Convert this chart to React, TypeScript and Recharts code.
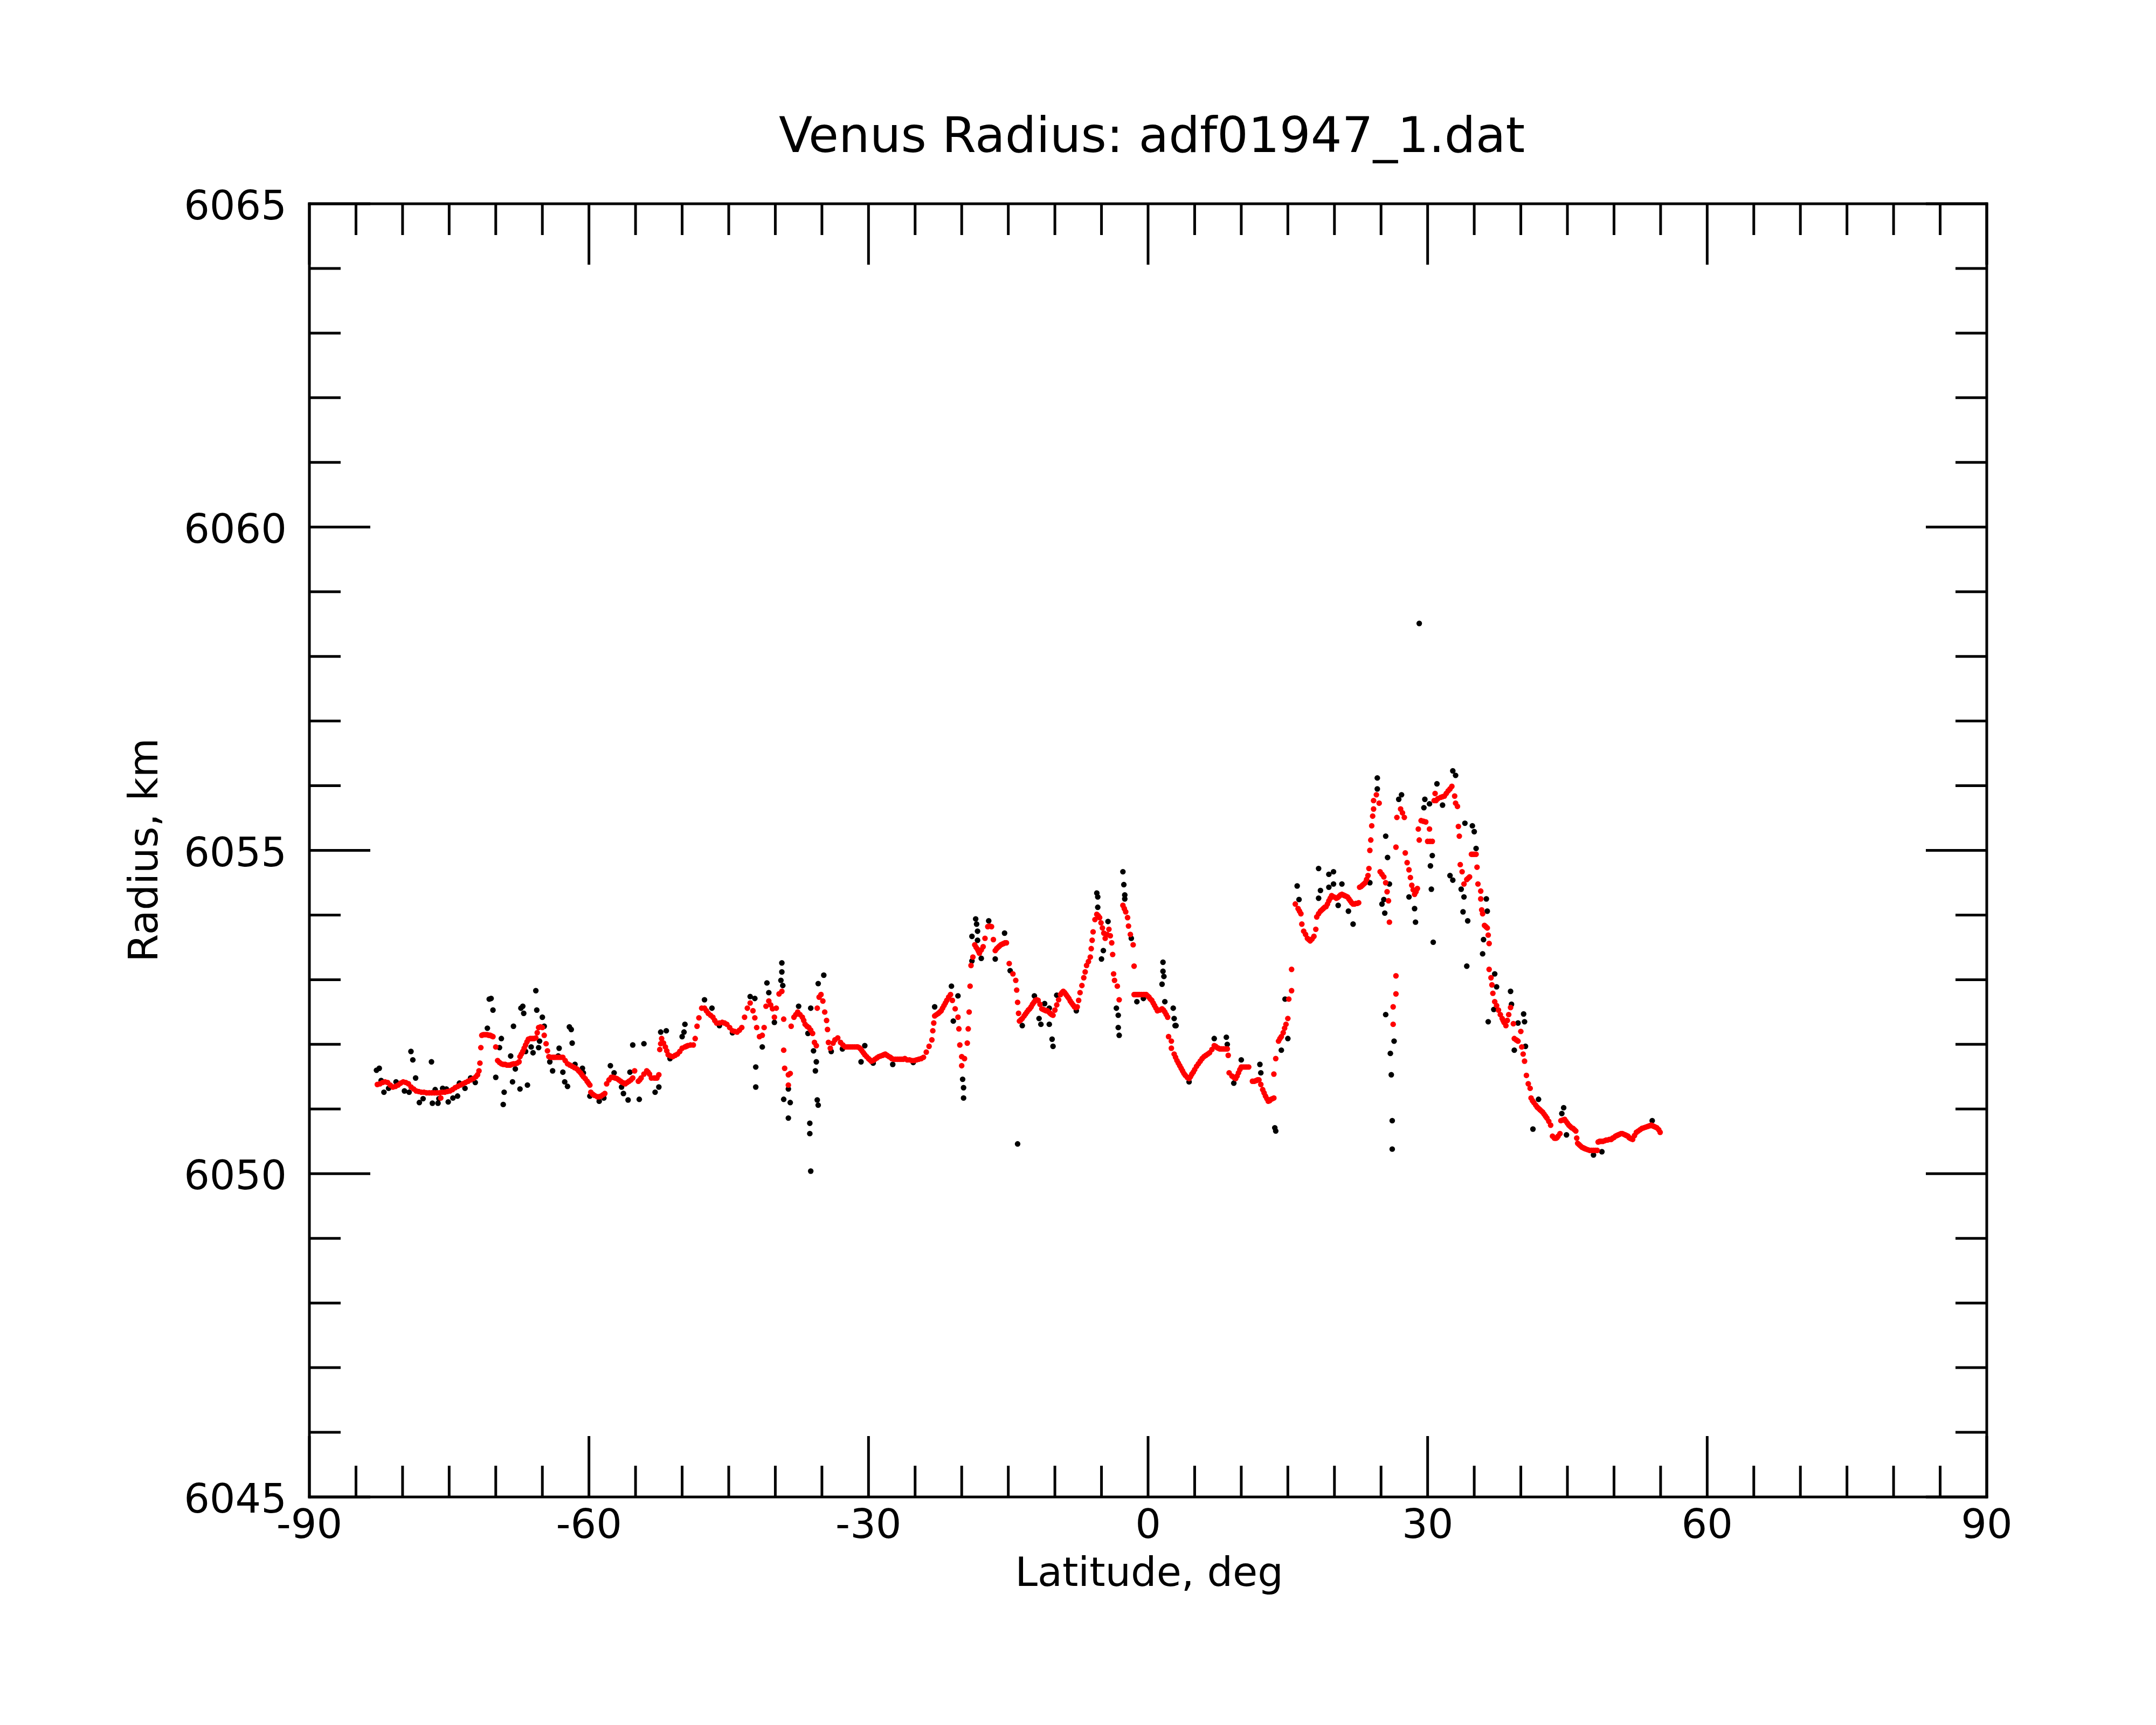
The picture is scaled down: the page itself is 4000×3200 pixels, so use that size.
import React from 'react';
import { ScatterChart, Scatter, XAxis, YAxis } from 'recharts';

const chartTitle = 'Venus Radius: adf01947_1.dat';
const xAxisTitle = 'Latitude, deg';
const yAxisTitle = 'Radius, km';

const xTicks = [-90, -85, -80, -75, -70, -65, -60, -55, -50, -45, -40, -35, -30, -25, -20, -15, -10, -5, 0, 5, 10, 15, 20, 25, 30, 35, 40, 45, 50, 55, 60, 65, 70, 75, 80, 85, 90];
const xLabelTicks = [-90, -60, -30, 0, 30, 60, 90];
const yTicks = [6045, 6046, 6047, 6048, 6049, 6050, 6051, 6052, 6053, 6054, 6055, 6056, 6057, 6058, 6059, 6060, 6061, 6062, 6063, 6064, 6065];
const yLabelTicks = [6045, 6050, 6055, 6060, 6065];

// smoothed radius (red) : [latitude, radius]
const smoothedPolar: [number, number][] = [
  [-82.71, 6051.38], [-82.43, 6051.39], [-82.15, 6051.41], [-81.88, 6051.42], [-81.60, 6051.41], [-81.32, 6051.37],
  [-81.04, 6051.34], [-80.76, 6051.35], [-80.48, 6051.37], [-80.21, 6051.40], [-79.93, 6051.42], [-79.65, 6051.41],
  [-79.37, 6051.39], [-79.09, 6051.34], [-78.81, 6051.31], [-78.54, 6051.28], [-78.26, 6051.27], [-77.98, 6051.26],
  [-77.70, 6051.26], [-77.42, 6051.25], [-77.14, 6051.25], [-76.87, 6051.25], [-76.59, 6051.25], [-76.31, 6051.25],
  [-76.03, 6051.25], [-75.75, 6051.26], [-75.9, 6051.17], [-75.47, 6051.26], [-75.20, 6051.27], [-74.92, 6051.28],
  [-74.64, 6051.30], [-74.36, 6051.33], [-74.08, 6051.35], [-73.80, 6051.37], [-73.53, 6051.39], [-73.25, 6051.41],
  [-72.97, 6051.43], [-72.69, 6051.45], [-72.41, 6051.47], [-72.13, 6051.50], [-71.95, 6051.53],
];

const smoothedSouth: [number, number][] = [
  [-71.8, 6051.59], [-71.7, 6051.71], [-71.6, 6051.95], [-71.5, 6052.14], [-71.35, 6052.15], [-71.2, 6052.15],
  [-71.05, 6052.15], [-70.9, 6052.15], [-70.75, 6052.14], [-70.6, 6052.14], [-70.45, 6052.13], [-70.3, 6052.12],
  [-70.0, 6051.96], [-69.8, 6051.75], [-69.6, 6051.72], [-69.4, 6051.70], [-69.2, 6051.69], [-69.0, 6051.69],
  [-68.8, 6051.68], [-68.6, 6051.68], [-68.45, 6051.68], [-68.3, 6051.69], [-68.1, 6051.70], [-67.9, 6051.70],
  [-67.7, 6051.71], [-67.5, 6051.73], [-67.4, 6051.81], [-67.25, 6051.85], [-67.1, 6051.89], [-66.95, 6051.94],
  [-66.8, 6051.99], [-66.65, 6052.04], [-66.5, 6052.08], [-66.3, 6052.09], [-66.1, 6052.09], [-65.9, 6052.09],
  [-65.7, 6052.10], [-65.55, 6052.18], [-65.4, 6052.26], [-65.2, 6052.27], [-65.0, 6052.26], [-64.8, 6052.14],
  [-64.6, 6052.01], [-64.45, 6051.90], [-64.3, 6051.81], [-64.1, 6051.80], [-63.9, 6051.80], [-63.75, 6051.80],
  [-63.6, 6051.80], [-63.4, 6051.80], [-63.2, 6051.80], [-63.0, 6051.80], [-62.8, 6051.80], [-62.55, 6051.75],
  [-62.3, 6051.70], [-62.05, 6051.68], [-61.8, 6051.66], [-61.55, 6051.64], [-61.3, 6051.62], [-61.1, 6051.59],
  [-60.9, 6051.56], [-60.75, 6051.53], [-60.6, 6051.50], [-60.4, 6051.47], [-60.2, 6051.43], [-60.05, 6051.40],
  [-59.9, 6051.37], [-59.8, 6051.26], [-59.6, 6051.23], [-59.4, 6051.21], [-59.1, 6051.19], [-58.9, 6051.19],
  [-58.7, 6051.20], [-58.5, 6051.22], [-58.3, 6051.24], [-58.1, 6051.39], [-57.85, 6051.45], [-57.6, 6051.49],
  [-57.4, 6051.49], [-57.2, 6051.48], [-57.0, 6051.47], [-56.8, 6051.45], [-56.6, 6051.43], [-56.4, 6051.41],
  [-56.25, 6051.40], [-56.1, 6051.39], [-55.9, 6051.41], [-55.7, 6051.43], [-55.5, 6051.45], [-55.3, 6051.48],
  [-55.1, 6051.59], [-54.7, 6051.43], [-54.55, 6051.45], [-54.4, 6051.48], [-54.1, 6051.54], [-53.8, 6051.59],
  [-53.65, 6051.57], [-53.5, 6051.54], [-53.3, 6051.48], [-53.0, 6051.48], [-52.85, 6051.48], [-52.7, 6051.48],
  [-52.5, 6051.53], [-52.4, 6051.92], [-52.3, 6052.01], [-52.2, 6052.09], [-52.0, 6052.02], [-51.8, 6051.96],
  [-51.65, 6051.90], [-51.5, 6051.84], [-51.25, 6051.82], [-51.0, 6051.81], [-50.75, 6051.83], [-50.5, 6051.85],
  [-50.25, 6051.89], [-50.0, 6051.94], [-49.7, 6051.96], [-49.55, 6051.97], [-49.4, 6051.98], [-49.1, 6051.99],
  [-48.8, 6051.99], [-48.6, 6052.09], [-48.4, 6052.28], [-48.2, 6052.41], [-47.9, 6052.56], [-47.6, 6052.56],
  [-47.4, 6052.52], [-47.2, 6052.48], [-46.95, 6052.45], [-46.7, 6052.42], [-46.5, 6052.37], [-46.3, 6052.33],
  [-46.0, 6052.33], [-45.7, 6052.34], [-45.45, 6052.33], [-45.2, 6052.31], [-44.9, 6052.26], [-44.6, 6052.21],
  [-44.35, 6052.20], [-44.1, 6052.19], [-43.85, 6052.22], [-43.6, 6052.26], [-43.3, 6052.42], [-43.0, 6052.56],
  [-42.7, 6052.64], [-42.4, 6052.52], [-42.2, 6052.41], [-42.0, 6052.26], [-41.7, 6052.12], [-41.4, 6052.14],
  [-41.2, 6052.26], [-41.0, 6052.59], [-40.7, 6052.67], [-40.5, 6052.61], [-40.3, 6052.55], [-40.1, 6052.42],
  [-39.9, 6052.56], [-39.6, 6052.78], [-39.3, 6052.82], [-39.1, 6052.39], [-39.1, 6051.91], [-39.0, 6051.63],
  [-38.6, 6051.53], [-38.6, 6051.37], [-38.4, 6051.55], [-38.3, 6052.28], [-38.0, 6052.42], [-37.8, 6052.46],
  [-37.6, 6052.50], [-37.35, 6052.46], [-37.1, 6052.42], [-36.95, 6052.37], [-36.8, 6052.31], [-36.6, 6052.28],
  [-36.4, 6052.26], [-36.2, 6052.22], [-36.0, 6052.17], [-35.8, 6052.03], [-35.6, 6051.98], [-35.5, 6052.56],
  [-35.3, 6052.73], [-35.1, 6052.77], [-34.9, 6052.67], [-34.7, 6052.50], [-34.5, 6052.37], [-34.4, 6052.23],
  [-34.3, 6052.03], [-34.1, 6051.94], [-33.8, 6052.02], [-33.6, 6052.07], [-33.3, 6052.10], [-33.0, 6052.03],
  [-32.75, 6051.99], [-32.5, 6051.96], [-32.3, 6051.96], [-32.1, 6051.96], [-31.9, 6051.96], [-31.7, 6051.96],
  [-31.5, 6051.96], [-31.3, 6051.96], [-31.15, 6051.96], [-31.0, 6051.95], [-30.85, 6051.93], [-30.7, 6051.90],
  [-30.55, 6051.87], [-30.4, 6051.84], [-30.2, 6051.81], [-30.0, 6051.78], [-29.85, 6051.76], [-29.7, 6051.74],
  [-29.5, 6051.75], [-29.3, 6051.77], [-29.1, 6051.79], [-28.9, 6051.81], [-28.7, 6051.82], [-28.5, 6051.83],
  [-28.35, 6051.84], [-28.2, 6051.85], [-28.0, 6051.83], [-27.8, 6051.81], [-27.65, 6051.80], [-27.5, 6051.78],
  [-27.3, 6051.77], [-27.1, 6051.77], [-26.9, 6051.77], [-26.7, 6051.77], [-26.55, 6051.77], [-26.4, 6051.77],
  [-26.25, 6051.77], [-26.1, 6051.78], [-25.85, 6051.76],
];

const smoothedEquator: [number, number][] = [
  [-25.6, 6051.76], [-25.35, 6051.75], [-25.1, 6051.75], [-24.85, 6051.76], [-24.6, 6051.77], [-24.35, 6051.78],
  [-24.1, 6051.80], [-23.8, 6051.88], [-23.5, 6051.97],
  [-23.2, 6052.07], [-23.1, 6052.21], [-23.0, 6052.33], [-22.9, 6052.44], [-22.7, 6052.46], [-22.5, 6052.48],
  [-22.35, 6052.50], [-22.2, 6052.52], [-22.05, 6052.56], [-21.9, 6052.60], [-21.75, 6052.64], [-21.6, 6052.68],
  [-21.4, 6052.73], [-21.2, 6052.77], [-21.0, 6052.68], [-20.7, 6052.55], [-20.4, 6052.42],
  [-20.3, 6052.24], [-20.2, 6051.99], [-20.0, 6051.81], [-20.0, 6051.67], [-19.7, 6051.78], [-19.4, 6052.02],
  [-19.3, 6052.24], [-19.2, 6052.50], [-19.1, 6052.90], [-19.0, 6053.22], [-18.8, 6053.35], [-18.6, 6053.54],
  [-18.45, 6053.50], [-18.3, 6053.47], [-18.2, 6053.44], [-18.1, 6053.41], [-17.9, 6053.46], [-17.7, 6053.51],
  [-17.5, 6053.64], [-17.2, 6053.82], [-17.0, 6053.83], [-16.8, 6053.82],
  [-16.6, 6053.62], [-16.4, 6053.45], [-16.25, 6053.48], [-16.1, 6053.50], [-15.95, 6053.52], [-15.8, 6053.54],
  [-15.65, 6053.55], [-15.5, 6053.56], [-15.35, 6053.57], [-15.2, 6053.57],
  [-14.9, 6053.25], [-14.5, 6053.09], [-14.2, 6052.99], [-14.1, 6052.84], [-14.0, 6052.65], [-13.9, 6052.48],
  [-13.8, 6052.36], [-13.65, 6052.38], [-13.5, 6052.40], [-13.3, 6052.44], [-13.15, 6052.47], [-13.0, 6052.50],
  [-12.85, 6052.53], [-12.7, 6052.55], [-12.55, 6052.58], [-12.4, 6052.62], [-12.25, 6052.65],
  [-12.1, 6052.68], [-11.95, 6052.69], [-11.8, 6052.68], [-11.6, 6052.62], [-11.4, 6052.55], [-11.25, 6052.54],
  [-11.1, 6052.53], [-10.95, 6052.52], [-10.8, 6052.52], [-10.65, 6052.50], [-10.5, 6052.48], [-10.35, 6052.46],
  [-10.2, 6052.45], [-10.0, 6052.53], [-9.8, 6052.61], [-9.6, 6052.69], [-9.4, 6052.77], [-9.25, 6052.80],
  [-9.1, 6052.82], [-8.95, 6052.80], [-8.8, 6052.77], [-8.65, 6052.74], [-8.5, 6052.71], [-8.35, 6052.67],
  [-8.2, 6052.64], [-8.05, 6052.61], [-7.9, 6052.58], [-7.75, 6052.57], [-7.6, 6052.58], [-7.45, 6052.68],
  [-7.3, 6052.80], [-7.1, 6052.91], [-6.9, 6053.03], [-6.75, 6053.12], [-6.6, 6053.22], [-6.4, 6053.28],
  [-6.2, 6053.35], [-6.1, 6053.48], [-6.0, 6053.61], [-5.9, 6053.74], [-5.7, 6053.93], [-5.5, 6054.01],
  [-5.35, 6053.99], [-5.2, 6053.96], [-5.05, 6053.88], [-4.9, 6053.80], [-4.75, 6053.72], [-4.6, 6053.64],
  [-4.4, 6053.70], [-4.2, 6053.78], [-4.05, 6053.68], [-3.9, 6053.57], [-3.8, 6053.39],
  [-3.7, 6053.09], [-3.6, 6052.99], [-3.3, 6052.90], [-3.1, 6052.69], [-2.7, 6054.15], [-2.55, 6054.10],
  [-2.4, 6054.05], [-2.2, 6053.96], [-2.1, 6053.83], [-1.9, 6053.70], [-1.6, 6053.54], [-1.5, 6053.21],
  [-1.5, 6052.77], [-1.35, 6052.77], [-1.2, 6052.77], [-1.05, 6052.77], [-0.9, 6052.77], [-0.7, 6052.77],
  [-0.5, 6052.77], [-0.35, 6052.77], [-0.2, 6052.77], [-0.05, 6052.75], [0.1, 6052.73], [0.25, 6052.70],
  [0.4, 6052.68], [0.55, 6052.64], [0.7, 6052.60], [0.85, 6052.56], [1.0, 6052.52], [1.25, 6052.53],
  [1.5, 6052.55], [1.65, 6052.53], [1.8, 6052.50], [1.95, 6052.46], [2.1, 6052.42], [2.2, 6052.12],
  [2.5, 6052.05], [2.5, 6051.94], [2.8, 6051.85], [2.95, 6051.80], [3.1, 6051.75], [3.25, 6051.71],
  [3.4, 6051.67], [3.55, 6051.63], [3.7, 6051.59], [3.85, 6051.55], [4.0, 6051.52], [4.2, 6051.49],
  [4.4, 6051.47], [4.55, 6051.50], [4.7, 6051.54], [4.85, 6051.57], [5.0, 6051.61], [5.2, 6051.66],
  [5.4, 6051.70], [5.6, 6051.74], [5.8, 6051.78], [6.0, 6051.81], [6.2, 6051.83], [6.4, 6051.85],
  [6.6, 6051.87], [6.85, 6051.92], [7.1, 6051.98], [7.25, 6051.97], [7.4, 6051.95], [7.55, 6051.94],
  [7.7, 6051.93], [7.9, 6051.93], [8.1, 6051.93], [8.3, 6051.93], [8.5, 6051.93], [8.6, 6051.83],
  [8.7, 6051.56], [9.0, 6051.51], [9.2, 6051.49], [9.4, 6051.47], [9.55, 6051.51], [9.7, 6051.56],
  [9.85, 6051.61], [10.0, 6051.65], [10.2, 6051.65], [10.4, 6051.65], [10.6, 6051.65], [10.8, 6051.65],
  [11.2, 6051.43], [11.4, 6051.43], [11.6, 6051.44], [11.75, 6051.45], [11.9, 6051.45], [12.1, 6051.38],
  [12.3, 6051.30], [12.45, 6051.25], [12.6, 6051.20], [12.75, 6051.16], [12.9, 6051.12], [13.05, 6051.13],
  [13.2, 6051.15], [13.35, 6051.16], [13.5, 6051.17], [13.5, 6051.54],
  [13.7, 6051.78], [14.0, 6052.05], [14.15, 6052.09], [14.3, 6052.12], [14.5, 6052.18], [14.65, 6052.25],
  [14.8, 6052.31], [15.0, 6052.40], [15.1, 6052.70], [15.4, 6052.83], [15.4, 6053.16],
];

const smoothedNorth: [number, number][] = [
  [15.8, 6054.17], [16.1, 6054.10], [16.25, 6054.06], [16.4, 6054.02], [16.5, 6053.86], [16.7, 6053.75],
  [16.9, 6053.70], [17.1, 6053.64], [17.25, 6053.62], [17.4, 6053.60], [17.6, 6053.63], [17.8, 6053.67],
  [18.0, 6053.78], [18.1, 6053.97], [18.3, 6054.02], [18.5, 6054.06], [18.65, 6054.08], [18.8, 6054.10],
  [18.95, 6054.12], [19.1, 6054.13], [19.25, 6054.17], [19.4, 6054.22], [19.55, 6054.26], [19.7, 6054.30],
  [19.95, 6054.28], [20.2, 6054.26], [20.35, 6054.27], [20.5, 6054.29], [20.65, 6054.31], [20.8, 6054.32],
  [20.95, 6054.31], [21.1, 6054.30], [21.25, 6054.29], [21.4, 6054.28], [21.55, 6054.25], [21.7, 6054.22],
  [21.85, 6054.19], [22.0, 6054.17], [22.15, 6054.17], [22.3, 6054.18], [22.45, 6054.18], [22.6, 6054.19],
  [22.7, 6054.43], [22.85, 6054.44], [23.0, 6054.46], [23.15, 6054.48], [23.3, 6054.50], [23.45, 6054.55],
  [23.6, 6054.61], [23.7, 6054.72], [23.8, 6055.00],
  [23.9, 6055.16], [24.0, 6055.38], [24.1, 6055.53], [24.2, 6055.64], [24.2, 6055.77], [24.5, 6055.86],
  [24.8, 6055.73], [24.9, 6054.67], [25.1, 6054.63], [25.3, 6054.59], [25.5, 6054.50], [25.65, 6054.36],
  [25.8, 6054.22], [25.9, 6053.89],
  [26.6, 6053.06], [26.6, 6052.78], [26.3, 6052.58], [26.3, 6052.31], [26.6, 6055.05], [26.7, 6055.51],
  [27.1, 6055.64], [27.3, 6055.58], [27.5, 6055.51], [27.6, 6054.96], [27.8, 6054.81], [28.0, 6054.70],
  [28.15, 6054.58], [28.3, 6054.46], [28.45, 6054.39], [28.6, 6054.32], [28.75, 6054.36], [28.9, 6054.41],
  [29.0, 6055.33], [29.1, 6055.16], [29.3, 6055.46], [29.55, 6055.45], [29.8, 6055.44],
  [30.0, 6055.14], [30.25, 6055.14], [30.5, 6055.14], [30.2, 6055.33], [30.7, 6055.77], [30.8, 6055.88],
  [30.9, 6055.77], [31.1, 6055.80], [31.4, 6055.82], [31.6, 6055.83], [31.8, 6055.84], [32.0, 6055.88],
  [32.2, 6055.92], [32.4, 6055.95], [32.6, 6055.99], [32.9, 6055.84], [33.0, 6055.73],
  [33.2, 6055.68], [33.3, 6055.37], [33.4, 6055.22], [33.5, 6054.78], [33.7, 6054.67], [33.9, 6054.48],
  [34.2, 6054.55], [34.35, 6054.57], [34.5, 6054.59], [34.7, 6054.94], [34.85, 6054.94], [35.0, 6054.94],
  [35.2, 6054.94], [35.3, 6054.74], [35.4, 6054.48], [35.7, 6054.37], [35.7, 6054.25], [35.8, 6054.08],
  [35.9, 6054.02], [36.1, 6053.84], [36.25, 6053.82], [36.4, 6053.80], [36.5, 6053.69], [36.6, 6053.56],
  [36.6, 6053.16], [36.8, 6053.03], [36.9, 6052.92],
  [37.0, 6052.79], [37.2, 6052.66], [37.4, 6052.60], [37.6, 6052.53], [37.8, 6052.46], [38.0, 6052.40],
  [38.1, 6052.37], [38.2, 6052.34], [38.4, 6052.29], [38.55, 6052.37], [38.7, 6052.46], [38.9, 6052.57],
  [39.2, 6052.32], [39.3, 6052.09], [39.5, 6052.07], [39.6, 6052.06], [39.7, 6052.05], [40.0, 6052.20],
  [40.1, 6051.96], [40.25, 6051.85], [40.4, 6051.74], [40.6, 6051.52],
  [40.8, 6051.39], [41.0, 6051.32], [41.1, 6051.17], [41.25, 6051.13], [41.4, 6051.10], [41.6, 6051.06],
  [41.75, 6051.03], [41.9, 6051.01], [42.05, 6050.99], [42.2, 6050.97], [42.35, 6050.95], [42.5, 6050.92],
  [42.65, 6050.89], [42.8, 6050.86], [43.0, 6050.81], [43.2, 6050.75], [43.4, 6050.58], [43.6, 6050.55],
  [43.7, 6050.55], [43.8, 6050.55], [43.9, 6050.56], [44.0, 6050.58], [44.2, 6050.62], [44.3, 6050.82],
  [44.5, 6050.83], [44.7, 6050.84], [44.85, 6050.81], [45.0, 6050.78], [45.15, 6050.75], [45.3, 6050.73],
  [45.45, 6050.71], [45.6, 6050.70], [45.75, 6050.68], [45.9, 6050.66], [46.0, 6050.55], [46.1, 6050.47],
  [46.25, 6050.45], [46.4, 6050.43], [46.55, 6050.41], [46.7, 6050.40], [46.85, 6050.39], [47.0, 6050.38],
  [47.2, 6050.37], [47.4, 6050.36], [47.6, 6050.36], [47.8, 6050.36], [48.0, 6050.36], [48.2, 6050.36],
  [48.3, 6050.49], [48.45, 6050.50], [48.6, 6050.50], [48.8, 6050.50], [49.0, 6050.51], [49.15, 6050.52],
  [49.3, 6050.52], [49.5, 6050.53], [49.7, 6050.53], [49.85, 6050.55], [50.0, 6050.56], [50.15, 6050.58],
  [50.3, 6050.59], [50.45, 6050.60], [50.6, 6050.61], [50.75, 6050.62], [50.9, 6050.62], [51.05, 6050.61],
  [51.2, 6050.60], [51.35, 6050.59], [51.5, 6050.58], [51.6, 6050.56], [51.7, 6050.55], [51.85, 6050.54],
  [52.0, 6050.53], [52.2, 6050.59], [52.4, 6050.64], [52.6, 6050.66], [52.8, 6050.68], [53.0, 6050.70],
  [53.2, 6050.71], [53.4, 6050.72], [53.6, 6050.73], [53.8, 6050.74], [54.0, 6050.75], [54.15, 6050.74],
  [54.3, 6050.73], [54.45, 6050.72], [54.6, 6050.71], [54.8, 6050.68], [54.95, 6050.64],
];

// raw radius samples (black) : [latitude, radius]
const rawSouth: [number, number][] = [
  [-82.8, 6051.60], [-82.5, 6051.63], [-82.3, 6051.44], [-82.0, 6051.26], [-81.5, 6051.32], [-80.7, 6051.42],
  [-79.8, 6051.28], [-79.3, 6051.26], [-79.1, 6051.89], [-78.9, 6051.76], [-78.6, 6051.48], [-78.2, 6051.10],
  [-77.8, 6051.16], [-76.9, 6051.73], [-76.8, 6051.09], [-76.5, 6051.30], [-76.2, 6051.09], [-76.1, 6051.16],
  [-75.7, 6051.32], [-75.3, 6051.31], [-75.1, 6051.11], [-74.6, 6051.17], [-74.1, 6051.20], [-73.9, 6051.40],
  [-73.3, 6051.32], [-72.7, 6051.48], [-72.2, 6051.41], [-70.9, 6052.25], [-70.7, 6052.70], [-70.5, 6052.71],
  [-70.3, 6052.53], [-70.0, 6051.49], [-69.6, 6051.95], [-69.4, 6052.09], [-69.2, 6051.07], [-69.1, 6051.26],
  [-68.4, 6051.82], [-68.2, 6051.42], [-68.1, 6052.28], [-67.9, 6051.62], [-67.4, 6051.31], [-67.3, 6052.56],
  [-67.1, 6052.59], [-67.0, 6052.48], [-66.8, 6051.89], [-66.6, 6051.37], [-66.2, 6051.96], [-66.0, 6051.87],
  [-65.7, 6052.83], [-65.6, 6052.53], [-65.4, 6051.95], [-65.3, 6052.05], [-65.0, 6052.42], [-64.8, 6052.28],
  [-64.2, 6051.73], [-63.9, 6051.59], [-63.3, 6051.82], [-63.2, 6051.94], [-62.8, 6051.57], [-62.6, 6051.42],
  [-62.3, 6051.35], [-62.1, 6052.27], [-61.9, 6052.23], [-61.8, 6052.02], [-61.5, 6051.69], [-60.7, 6051.63],
  [-60.6, 6051.56], [-59.9, 6051.20], [-58.9, 6051.12], [-58.4, 6051.17], [-57.7, 6051.67], [-57.3, 6051.56],
  [-56.5, 6051.34], [-56.3, 6051.24], [-55.8, 6051.14], [-55.6, 6051.57], [-55.3, 6051.99], [-54.6, 6051.15],
  [-54.1, 6052.01], [-52.9, 6051.26], [-52.5, 6051.34], [-52.3, 6052.19], [-51.7, 6052.21], [-51.3, 6051.78],
  [-50.0, 6052.12], [-49.8, 6052.19], [-49.7, 6052.31], [-47.6, 6052.69], [-46.8, 6052.56], [-46.0, 6052.29],
  [-44.6, 6052.18], [-42.7, 6052.74], [-42.2, 6052.71], [-42.1, 6051.65], [-42.1, 6051.34], [-41.4, 6051.96],
  [-40.9, 6052.95], [-40.7, 6052.80], [-40.1, 6052.34], [-39.4, 6052.99], [-39.3, 6053.26], [-39.3, 6053.12],
  [-39.2, 6052.91], [-39.1, 6051.15], [-38.6, 6051.31], [-38.4, 6051.10], [-38.6, 6050.86], [-37.5, 6052.59],
  [-36.5, 6052.17], [-36.2, 6052.56], [-35.9, 6051.90], [-35.6, 6051.73], [-35.7, 6051.59], [-36.3, 6050.78],
  [-36.3, 6050.62], [-36.2, 6050.04], [-35.5, 6051.14], [-35.4, 6051.06], [-35.4, 6052.94], [-34.8, 6053.07],
  [-34.0, 6051.89], [-32.8, 6051.93], [-30.8, 6051.73], [-30.4, 6051.98], [-29.5, 6051.71], [-27.4, 6051.69],
  [-25.2, 6051.72],
];

const rawEquator: [number, number][] = [
  [-22.9, 6052.58], [-21.1, 6052.90], [-20.4, 6052.75], [-20.9, 6052.36], [-19.9, 6051.46], [-19.8, 6051.33],
  [-19.8, 6051.17], [-18.5, 6053.94], [-18.4, 6053.86], [-18.3, 6053.75], [-18.9, 6053.67], [-18.3, 6053.61],
  [-17.9, 6053.33], [-18.9, 6053.29], [-17.1, 6053.91], [-16.4, 6053.32], [-15.4, 6053.72], [-14.8, 6053.14],
  [-14.0, 6050.46], [-13.5, 6052.29], [-12.2, 6052.75], [-11.7, 6052.40], [-11.5, 6052.31], [-11.1, 6052.63],
  [-10.6, 6052.31], [-10.6, 6052.56], [-10.3, 6052.08], [-10.2, 6051.97], [-9.8, 6052.76], [-7.7, 6052.52],
  [-5.5, 6054.34], [-5.4, 6054.28], [-5.4, 6054.12], [-4.3, 6053.90], [-4.8, 6053.45], [-5.0, 6053.32],
  [-2.7, 6054.67], [-2.6, 6054.47], [-2.5, 6054.31], [-2.5, 6054.25], [-3.4, 6052.56], [-3.2, 6052.45],
  [-3.2, 6052.26], [-3.1, 6052.14], [-1.8, 6053.64], [-1.2, 6052.66], [-0.5, 6052.71], [1.6, 6053.27],
  [1.6, 6053.13], [1.7, 6053.05], [1.5, 6052.93], [1.8, 6052.66], [2.7, 6052.56], [2.8, 6052.40],
  [2.9, 6052.29], [3.0, 6052.29], [4.4, 6051.42], [7.1, 6052.09], [8.4, 6052.11], [8.5, 6052.00],
  [9.2, 6051.40], [10.0, 6051.76], [12.0, 6051.69], [12.1, 6051.56], [13.6, 6050.71], [13.7, 6050.66],
  [14.3, 6051.91], [14.7, 6052.70], [15.0, 6052.09],
];

const rawNorth: [number, number][] = [
  [16.0, 6054.45], [16.2, 6054.24], [18.3, 6054.72], [18.5, 6054.38], [18.3, 6054.26], [19.4, 6054.63],
  [19.9, 6054.67], [19.4, 6054.43], [19.9, 6054.48], [20.8, 6054.48], [20.4, 6054.15], [21.5, 6054.06],
  [22.0, 6053.86], [24.6, 6056.12], [24.6, 6055.95], [23.8, 6054.50], [25.5, 6055.22], [25.7, 6054.89],
  [25.9, 6054.48], [25.3, 6054.24], [25.1, 6054.17], [25.4, 6054.03], [25.5, 6052.46], [26.4, 6052.05],
  [26.0, 6051.86], [26.1, 6051.53], [26.2, 6050.82], [26.2, 6050.38], [27.2, 6055.86], [26.9, 6055.79],
  [28.6, 6054.10], [28.7, 6053.89], [28.0, 6054.28], [29.1, 6058.51], [30.6, 6053.58], [30.4, 6054.40],
  [30.3, 6054.76], [30.5, 6054.92], [29.7, 6055.79], [29.6, 6055.66], [31.0, 6056.03], [31.6, 6055.70],
  [32.7, 6056.23], [33.0, 6056.16], [32.4, 6054.61], [32.7, 6054.54], [30.2, 6055.72], [34.0, 6055.42],
  [34.8, 6055.38], [35.0, 6055.29], [35.2, 6055.03], [33.6, 6054.40], [33.9, 6054.28], [33.8, 6054.05],
  [34.3, 6053.91], [34.2, 6053.21], [36.3, 6054.25], [36.4, 6054.06], [36.0, 6053.62], [35.9, 6053.40],
  [37.2, 6053.09], [37.4, 6052.89], [37.1, 6052.54], [38.9, 6052.82], [39.0, 6052.62], [36.5, 6052.35],
  [40.3, 6052.47], [40.4, 6052.35], [39.7, 6052.33], [39.3, 6051.91], [40.5, 6051.97], [41.3, 6050.69],
  [41.9, 6051.15], [44.6, 6051.02], [44.4, 6050.93], [44.9, 6050.60], [48.7, 6050.34], [47.8, 6050.29],
  [54.1, 6050.82],
];

const toPoints = (arr: [number, number][]) => arr.map(([lat, r]) => ({ lat, r }));
const smoothedData = toPoints([...smoothedPolar, ...smoothedSouth, ...smoothedEquator, ...smoothedNorth]);
const rawData = toPoints([...rawSouth, ...rawEquator, ...rawNorth]);

// layout
const W = 4000;
const H = 3200;
const PL = 574;
const PR = 3686;
const PT = 378;
const PB = 2777;
const FONT = 'DejaVu Sans';
const MAJOR = 113;
const MINOR = 58;
const LW = 5;

const axisLineStyle = { stroke: '#000', strokeWidth: LW, strokeLinecap: 'square' as const };

const BottomTick = (props: any) => {
  const { x, y, payload } = props;
  const v = payload.value;
  const major = xLabelTicks.includes(v);
  return (
    <g>
      <line x1={x} x2={x} y1={y} y2={y - (major ? MAJOR : MINOR)} stroke="#000" strokeWidth={LW} />
      {major && (
        <text x={x} y={y + 76} textAnchor="middle" fontFamily={FONT} fontSize={75} fill="#000">
          {String(v)}
        </text>
      )}
    </g>
  );
};

const TopTick = (props: any) => {
  const { x, y, payload } = props;
  const major = xLabelTicks.includes(payload.value);
  return <line x1={x} x2={x} y1={y} y2={y + (major ? MAJOR : MINOR)} stroke="#000" strokeWidth={LW} />;
};

const LeftTick = (props: any) => {
  const { x, y, payload } = props;
  const v = payload.value;
  const major = yLabelTicks.includes(v);
  return (
    <g>
      <line x1={x} x2={x + (major ? MAJOR : MINOR)} y1={y} y2={y} stroke="#000" strokeWidth={LW} />
      {major && (
        <text x={x - 42} y={y + 29} textAnchor="end" fontFamily={FONT} fontSize={75} fill="#000">
          {String(v)}
        </text>
      )}
    </g>
  );
};

const RightTick = (props: any) => {
  const { x, y, payload } = props;
  const major = yLabelTicks.includes(payload.value);
  return <line x1={x} x2={x - (major ? MAJOR : MINOR)} y1={y} y2={y} stroke="#000" strokeWidth={LW} />;
};

const makeDot = (color: string) => (props: any) => (
  <circle cx={props.cx} cy={props.cy} r={5.2} fill={color} />
);

export default function App() {
  return (
    <div style={{ position: 'absolute', left: 0, top: 0, width: W, height: H, background: '#fff' }}>
      <ScatterChart
        width={W}
        height={H}
        margin={{ top: PT - 1, left: PL - 1, right: W - PR - 1, bottom: H - PB - 1 }}
      >
        <XAxis
          xAxisId="bottom"
          orientation="bottom"
          type="number"
          dataKey="lat"
          domain={[-90, 90]}
          ticks={xTicks}
          interval={0}
          height={1}
          tickSize={0}
          tickMargin={0}
          tickLine={false}
          axisLine={axisLineStyle}
          tick={BottomTick}
          allowDataOverflow
        />
        <XAxis
          xAxisId="top"
          orientation="top"
          type="number"
          dataKey="lat"
          domain={[-90, 90]}
          ticks={xTicks}
          interval={0}
          height={1}
          tickSize={0}
          tickMargin={0}
          tickLine={false}
          axisLine={axisLineStyle}
          tick={TopTick}
          allowDataOverflow
        />
        <YAxis
          yAxisId="left"
          orientation="left"
          type="number"
          dataKey="r"
          domain={[6045, 6065]}
          ticks={yTicks}
          interval={0}
          width={1}
          tickSize={0}
          tickMargin={0}
          tickLine={false}
          axisLine={axisLineStyle}
          tick={LeftTick}
          allowDataOverflow
        />
        <YAxis
          yAxisId="right"
          orientation="right"
          type="number"
          dataKey="r"
          domain={[6045, 6065]}
          ticks={yTicks}
          interval={0}
          width={1}
          tickSize={0}
          tickMargin={0}
          tickLine={false}
          axisLine={axisLineStyle}
          tick={RightTick}
          allowDataOverflow
        />
        <Scatter
          data={rawData}
          xAxisId="bottom"
          yAxisId="left"
          fill="#000"
          shape={makeDot('#000')}
          isAnimationActive={false}
        />
        <Scatter
          data={smoothedData}
          xAxisId="bottom"
          yAxisId="left"
          fill="#ff0000"
          shape={makeDot('#ff0000')}
          isAnimationActive={false}
        />
      </ScatterChart>
      <svg
        width={W}
        height={H}
        style={{ position: 'absolute', left: 0, top: 0, pointerEvents: 'none' }}
      >
        <text x={2137} y={282} textAnchor="middle" fontFamily={FONT} fontSize={91} fill="#000">
          {chartTitle}
        </text>
        <text x={2132} y={2942} textAnchor="middle" fontFamily={FONT} fontSize={75} fill="#000">
          {xAxisTitle}
        </text>
        <text
          x={292}
          y={1577}
          transform="rotate(-90 292 1577)"
          textAnchor="middle"
          fontFamily={FONT}
          fontSize={75}
          fill="#000"
        >
          {yAxisTitle}
        </text>
      </svg>
    </div>
  );
}
